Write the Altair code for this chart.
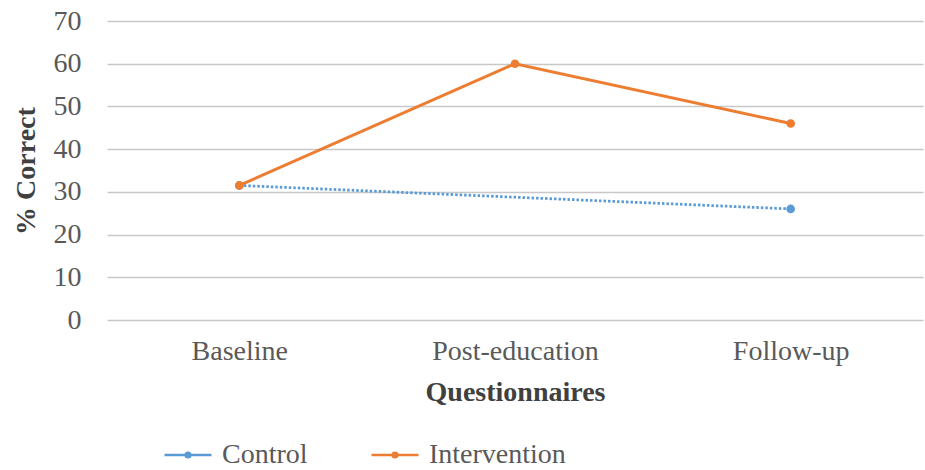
import altair as alt
import pandas as pd

# Survey results: share of correct answers per questionnaire round
questionnaires = ["Baseline", "Post-education", "Follow-up"]
intervention_pct = [31.5, 60.0, 46.0]
control_rounds = ["Baseline", "Follow-up"]
control_pct = [31.5, 26.0]

series_names = ["Control", "Intervention"]
series_colors = ["#5B9BD5", "#ED7D31"]

rows = [{"Questionnaire": q, "Group": "Control", "Pct": v} for q, v in zip(control_rounds, control_pct)]
rows += [{"Questionnaire": q, "Group": "Intervention", "Pct": v} for q, v in zip(questionnaires, intervention_pct)]
df = pd.DataFrame(rows)

FONT = "Liberation Serif"
FS = 28

# legend swatch: short line with a dot in the middle
swatch = "M-1,0H1M-0.1,0A0.1,0.1,0,1,0,0.1,0A0.1,0.1,0,1,0,-0.1,0Z"

x_enc = alt.X(
    "Questionnaire:N",
    sort=questionnaires,
    scale=alt.Scale(type="point", domain=questionnaires, padding=0.48),
    axis=alt.Axis(
        title="Questionnaires",
        labelFont=FONT, labelFontSize=FS, labelColor="#595959",
        labelPadding=17, labelAngle=0,
        titleFont=FONT, titleFontSize=FS, titleFontWeight="bold", titleColor="#404040",
        titlePadding=13,
        domain=False, ticks=False, grid=False,
    ),
)
y_enc = alt.Y(
    "Pct:Q",
    scale=alt.Scale(domain=[0, 70], nice=False, zero=True),
    axis=alt.Axis(
        title="% Correct",
        values=[0, 10, 20, 30, 40, 50, 60, 70],
        labelFont=FONT, labelFontSize=FS, labelColor="#595959",
        labelPadding=26,
        titleFont=FONT, titleFontSize=FS, titleFontWeight="bold", titleColor="#404040",
        titlePadding=13,
        domain=False, ticks=False,
        grid=True, gridColor="#C8C8C8", gridWidth=1.5,
    ),
)
color_enc = alt.Color(
    "Group:N",
    scale=alt.Scale(domain=series_names, range=series_colors),
    legend=alt.Legend(
        title=None,
        orient="none", direction="horizontal",
        legendX=56, legendY=409,
        symbolType=swatch, symbolSize=2209, symbolStrokeWidth=2.5,
        labelFont=FONT, labelFontSize=FS, labelColor="#595959",
        labelOffset=9, columnPadding=58,
    ),
)

base = alt.Chart(df)

control_line = base.transform_filter(alt.datum.Group == "Control").mark_line(
    strokeWidth=2.75, strokeDash=[2.5, 2], strokeCap="butt"
).encode(x=x_enc, y=y_enc, color=color_enc)
control_pts = base.transform_filter(alt.datum.Group == "Control").mark_point(
    filled=True, size=75, opacity=1
).encode(x=x_enc, y=y_enc, color=color_enc)
interv_line = base.transform_filter(alt.datum.Group == "Intervention").mark_line(
    strokeWidth=3
).encode(x=x_enc, y=y_enc, color=color_enc)
interv_pts = base.transform_filter(alt.datum.Group == "Intervention").mark_point(
    filled=True, size=75, opacity=1
).encode(x=x_enc, y=y_enc, color=color_enc)

chart = alt.layer(control_line, control_pts, interv_line, interv_pts).properties(
    width=816, height=299,
    autosize=alt.AutoSizeParams(type="none"),
    padding={"left": 107, "top": 21, "right": 2, "bottom": 150},
    background="white",
).configure_view(stroke=None)

chart.save("out.html", embed_options={"renderer": "svg", "actions": False})
